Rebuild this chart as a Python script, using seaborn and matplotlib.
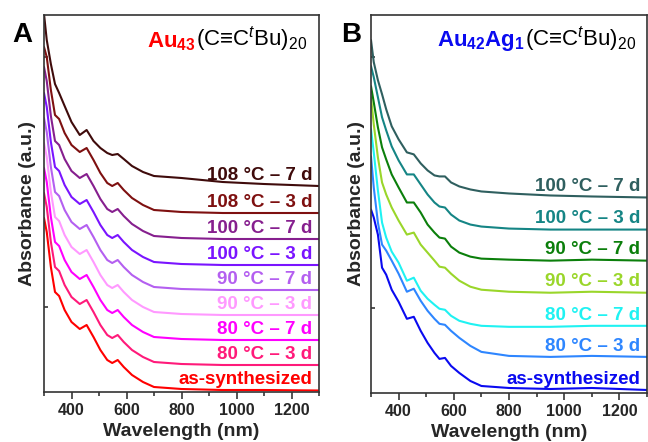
import numpy as np
import pandas as pd
import matplotlib
matplotlib.use("Agg")
import matplotlib.pyplot as plt
import seaborn as sns
from matplotlib.ticker import MultipleLocator, FixedLocator

# ============================================================
# Data (absorbance in a.u., spectra offset-stacked as in the figure)
# ============================================================
WAVELENGTH = [300, 310, 325, 340, 355, 375, 400, 430, 455, 480, 505,
              530, 548, 568, 590, 620, 660, 700, 800, 950, 1100, 1300]

# --- Panel A: Au43(C≡CtBu)20 ---
A_LABELS = ["as-synthesized", "80 °C – 3 d", "80 °C – 7 d", "90 °C – 3 d",
            "90 °C – 7 d", "100 °C – 3 d", "100 °C – 7 d", "108 °C – 3 d",
            "108 °C – 7 d"]
A_COLORS = ["#ff0000", "#ff1a7a", "#ff00ff", "#ff99ff", "#b45ff0",
            "#7a14ff", "#861f8e", "#7e1010", "#3f0b0b"]

A_AS_SYN = [1.74, 1.60, 1.25, 1.00, 0.96, 0.82, 0.70, 0.63, 0.67, 0.55, 0.42,
            0.32, 0.29, 0.32, 0.25, 0.17, 0.10, 0.05, 0.03, 0.02, 0.02, 0.015]
A_80_3D = [1.99, 1.85, 1.50, 1.25, 1.21, 1.07, 0.95, 0.88, 0.92, 0.80, 0.67,
           0.57, 0.54, 0.57, 0.50, 0.42, 0.35, 0.30, 0.28, 0.27, 0.27, 0.27]
A_80_7D = [2.24, 2.10, 1.75, 1.50, 1.46, 1.32, 1.20, 1.13, 1.17, 1.05, 0.92,
           0.82, 0.79, 0.82, 0.75, 0.67, 0.60, 0.55, 0.53, 0.52, 0.52, 0.52]
A_90_3D = [2.49, 2.35, 2.00, 1.75, 1.71, 1.57, 1.45, 1.38, 1.42, 1.30, 1.17,
           1.07, 1.04, 1.07, 1.00, 0.92, 0.85, 0.80, 0.78, 0.77, 0.77, 0.77]
A_90_7D = [2.74, 2.60, 2.25, 2.00, 1.96, 1.82, 1.70, 1.63, 1.67, 1.55, 1.42,
           1.32, 1.29, 1.32, 1.25, 1.17, 1.10, 1.05, 1.03, 1.02, 1.02, 1.02]
A_100_3D = [2.99, 2.85, 2.50, 2.25, 2.21, 2.07, 1.95, 1.88, 1.92, 1.80, 1.67,
            1.57, 1.54, 1.57, 1.50, 1.42, 1.35, 1.30, 1.28, 1.27, 1.27, 1.27]
A_100_7D = [3.25, 3.11, 2.76, 2.51, 2.47, 2.33, 2.21, 2.14, 2.18, 2.06, 1.93,
            1.83, 1.80, 1.83, 1.76, 1.68, 1.61, 1.56, 1.54, 1.53, 1.53, 1.53]
A_108_3D = [3.45, 3.35, 3.02, 2.77, 2.73, 2.59, 2.47, 2.40, 2.44, 2.32, 2.19,
            2.09, 2.06, 2.09, 2.02, 1.94, 1.87, 1.82, 1.80, 1.79, 1.79, 1.79]
A_108_7D = [3.78, 3.52, 3.28, 3.08, 2.99, 2.86, 2.70, 2.57, 2.62, 2.51, 2.44,
            2.39, 2.37, 2.38, 2.33, 2.26, 2.20, 2.16, 2.14, 2.10, 2.08, 2.06]

# --- Panel B: Au42Ag1(C≡CtBu)20 ---
B_LABELS = ["as-synthesized", "80 °C – 3 d", "80 °C – 7 d", "90 °C – 3 d",
            "90 °C – 7 d", "100 °C – 3 d", "100 °C – 7 d"]
B_COLORS = ["#0a0af0", "#2e86ff", "#1ff2f2", "#9ad62a", "#0b7f0b",
            "#158585", "#2f5f5f"]

B_AS_SYN = [1.83, 1.75, 1.58, 1.25, 1.18, 1.03, 0.91, 0.74, 0.76, 0.62, 0.50,
            0.40, 0.34, 0.35, 0.27, 0.20, 0.12, 0.07, 0.05, 0.04, 0.05, 0.03]
B_80_3D = [2.36, 2.05, 1.70, 1.48, 1.42, 1.32, 1.19, 1.01, 1.04, 0.92, 0.82,
           0.74, 0.69, 0.68, 0.62, 0.55, 0.47, 0.41, 0.37, 0.36, 0.37, 0.36]
B_80_7D = [2.63, 2.40, 2.02, 1.70, 1.55, 1.41, 1.30, 1.12, 1.15, 1.02, 0.94,
           0.88, 0.84, 0.83, 0.77, 0.72, 0.69, 0.67, 0.66, 0.66, 0.67, 0.67]
B_90_3D = [2.95, 2.68, 2.35, 2.10, 1.98, 1.85, 1.72, 1.58, 1.60, 1.48, 1.40,
           1.32, 1.26, 1.25, 1.19, 1.12, 1.06, 1.03, 1.01, 1.00, 1.01, 1.00]
B_90_7D = [3.06, 2.90, 2.65, 2.45, 2.33, 2.18, 2.05, 1.90, 1.90, 1.80, 1.68,
           1.60, 1.55, 1.54, 1.46, 1.40, 1.36, 1.34, 1.33, 1.32, 1.33, 1.32]
B_100_3D = [3.26, 3.15, 2.95, 2.75, 2.62, 2.46, 2.32, 2.18, 2.18, 2.08, 1.98,
            1.90, 1.86, 1.85, 1.78, 1.72, 1.68, 1.66, 1.64, 1.63, 1.63, 1.63]
B_100_7D = [3.52, 3.30, 3.12, 2.98, 2.83, 2.66, 2.53, 2.40, 2.38, 2.29, 2.22,
            2.17, 2.16, 2.16, 2.10, 2.06, 2.03, 2.01, 1.99, 1.97, 1.96, 1.95]

A_SERIES = [A_AS_SYN, A_80_3D, A_80_7D, A_90_3D, A_90_7D, A_100_3D,
            A_100_7D, A_108_3D, A_108_7D]
B_SERIES = [B_AS_SYN, B_80_3D, B_80_7D, B_90_3D, B_90_7D, B_100_3D, B_100_7D]


def long_table(labels, series):
    rows = []
    for lab, vals in zip(labels, series):
        for wl, v in zip(WAVELENGTH, vals):
            rows.append({"wl": wl, "abs": v, "sample": lab})
    return pd.DataFrame(rows)


def draw_panel(ax, labels, colors, series, letter, ylab_x, letter_x):
    df = long_table(labels, series)
    sns.lineplot(data=df, x="wl", y="abs", hue="sample",
                 palette=dict(zip(labels, colors)), hue_order=labels,
                 sort=False, estimator=None, legend=False,
                 linewidth=1.5, ax=ax)

    ax.set_xlim(300, 1300)
    ax.set_ylim(0, 3.77)
    ax.xaxis.set_major_locator(MultipleLocator(200))
    ax.xaxis.set_minor_locator(MultipleLocator(100))
    ax.yaxis.set_major_locator(FixedLocator([0.85, 3.35]))
    ax.set_yticklabels([])
    ax.tick_params(axis="x", which="major", direction="out", length=5,
                   width=1.1, labelsize=11.5, pad=3)
    ax.tick_params(axis="x", which="minor", direction="out", length=3, width=1.1)
    ax.tick_params(axis="y", which="major", direction="in", length=3, width=1.1)
    for lab in ax.get_xticklabels():
        lab.set_fontweight("bold")
    for sp in ax.spines.values():
        sp.set_linewidth(1.2)
        sp.set_color("#333333")

    ax.set_xlabel("Wavelength (nm)", fontsize=14, fontweight="bold")
    ax.set_ylabel("Absorbance (a.u.)", fontsize=14, fontweight="bold")
    ax.xaxis.set_label_coords(0.5, -0.082)
    ax.yaxis.set_label_coords(ylab_x, 0.5)

    # series labels just above the right end of each curve
    for lab, col, vals in zip(labels, colors, series):
        ax.annotate(lab, xy=(1275, vals[-1]), xytext=(0, 4.5),
                    textcoords="offset points", ha="right", va="baseline",
                    color=col, fontsize=13.5, fontweight="bold")

    ax.text(letter_x, 0.946, letter, transform=ax.transAxes, fontsize=20,
            fontweight="bold", ha="center", va="center", color="black")


sns.set_style("ticks")
plt.rcParams["font.family"] = ["Liberation Sans", "DejaVu Sans"]
plt.rcParams["mathtext.fontset"] = "custom"
plt.rcParams["mathtext.rm"] = "Liberation Sans"
plt.rcParams["mathtext.it"] = "Liberation Sans:italic"
plt.rcParams["mathtext.bf"] = "Liberation Sans:bold"
plt.rcParams["mathtext.fallback"] = "stixsans"

fig = plt.figure(figsize=(6.48, 4.42), dpi=100)
ax_a = fig.add_axes([44 / 648, 1 - 392 / 442, 275 / 648, 377 / 442])
ax_b = fig.add_axes([371 / 648, 1 - 393 / 442, 276 / 648, 378 / 442])

draw_panel(ax_a, A_LABELS, A_COLORS, A_SERIES, "A", -0.030, -0.08)
draw_panel(ax_b, B_LABELS, B_COLORS, B_SERIES, "B", -0.020, -0.072)

# compound titles: coloured metal core + black ligand part
LIGAND = "(C≡C$^{t}$Bu)$_{20}$"
t1 = ax_a.text(0.375, 0.899, r"$\mathbf{Au_{43}}$", transform=ax_a.transAxes,
               color="#ff0000", fontsize=16, ha="left", va="bottom")
ax_a.annotate(LIGAND, xy=(1, 0), xycoords=t1,
              ha="left", va="bottom", fontsize=16, color="black")

t2 = ax_b.text(0.238, 0.899, r"$\mathbf{Au_{42}Ag_{1}}$", transform=ax_b.transAxes,
               color="#0a0af0", fontsize=16, ha="left", va="bottom")
ax_b.annotate(LIGAND, xy=(1, 0), xycoords=t2,
              ha="left", va="bottom", fontsize=16, color="black")

fig.savefig("out.png", dpi=100)
plt.close(fig)
